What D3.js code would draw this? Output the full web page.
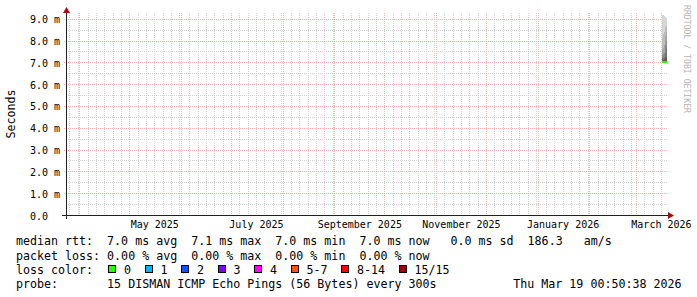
<!DOCTYPE html>
<html>
<head>
<meta charset="utf-8">
<script src="https://cdn.jsdelivr.net/npm/d3@7"></script>
<style>
  html, body { margin: 0; padding: 0; background: #fff; }
  svg { display: block; font-family: "DejaVu Sans Mono", monospace; }
  text { white-space: pre; }
</style>
</head>
<body>
<script>
//Graph window (last 360 days)
const graphStart = "2025-03-24T00:50:38";
const graphEnd = "2026-03-19T00:50:38";
const yMax = 0.00917;

//RRD samples at the far right: start of each step, sorted pings (ms), median (ms), lost pings
const sampleTimes = ["2026-03-16T10:50:00", "2026-03-17T01:14:00", "2026-03-17T15:38:00", "2026-03-18T06:02:00", "2026-03-18T20:26:00"];
const samplePings = [
  [6.96, 6.97, 6.98, 6.99, 6.99, 7.00, 7.00, 7.00, 7.02, 7.08, 7.18, 7.32, 7.55, 8.10, 9.17],
  [6.97, 6.98, 6.98, 6.99, 7.00, 7.00, 7.00, 7.01, 7.03, 7.10, 7.22, 7.40, 7.65, 8.30, 9.15],
  [6.97, 6.98, 6.99, 6.99, 7.00, 7.00, 7.01, 7.01, 7.04, 7.12, 7.25, 7.45, 7.80, 8.40, 9.12],
  [6.97, 6.98, 6.99, 7.00, 7.00, 7.00, 7.01, 7.02, 7.05, 7.20, 7.45, 7.80, 8.20, 8.60, 9.10],
  [6.98, 6.98, 6.99, 7.00, 7.00, 7.01, 7.01, 7.02, 7.06, 7.25, 7.60, 8.00, 8.40, 8.70, 9.05]
];
const sampleMedians = [7.00, 7.01, 7.00, 7.01, 7.02];
const sampleLoss = [0, 0, 0, 0, 0];

//Y tick labels
const yTickValues = [0, 0.001, 0.002, 0.003, 0.004, 0.005, 0.006, 0.007, 0.008, 0.009];

//Legend
const rttLegend = ["7.0 ms avg", "7.1 ms max", "7.0 ms min", "7.0 ms now", " 0.0 ms sd", "186.3   am/s"];
const lossLegend = ["0.00 % avg", "0.00 % max", "0.00 % min", "0.00 % now"];
const lossLabels = ["0", "1", "2", "3", "4", "5-7", "8-14", "15/15"];
const lossColors = ["#26ff00", "#00b8ff", "#0059ff", "#7e00ff", "#ff00ff", "#ff5500", "#ff0000", "#a10000"];
const probeText = "15 DISMAN ICMP Echo Pings (56 Bytes) every 300s";
const stampText = "Thu Mar 19 00:50:38 2026";

//Sizes
const width = 697;
const height = 297;
const X0 = 66, X1 = 666, Y0 = 215, Y1 = 15;
const snap = v => Math.round(v) + 0.5;

const svg = d3.select("body")
  .append("svg")
  .attr("width", width)
  .attr("height", height)
  .style("background-color", "#fff");

const parse = d3.isoParse;
const tStart = parse(graphStart), tEnd = parse(graphEnd);

const xScale = d3.scaleTime().domain([tStart, tEnd]).range([X0, X1]);
const yScale = d3.scaleLinear().domain([0, yMax]).range([Y0, Y1]);

const minorGrid = "#d2d2d2";
const majorGrid = "#f0b8b8";

//Grid (behind the data)
const grid = svg.append("g").attr("shape-rendering", "crispEdges");

const yMinor = yScale.ticks(20);
grid.selectAll(".hminor").data(yMinor.filter(v => !yTickValues.some(t => Math.abs(t - v) < 1e-9)))
  .join("line")
  .attr("x1", X0).attr("x2", X1 + 1)
  .attr("y1", d => snap(yScale(d))).attr("y2", d => snap(yScale(d)))
  .attr("stroke", minorGrid).attr("stroke-dasharray", "1,1");

const xMinor = d3.timeDay.every(5).range(tStart, tEnd);
grid.selectAll(".vminor").data(xMinor)
  .join("line")
  .attr("x1", d => snap(xScale(d))).attr("x2", d => snap(xScale(d)))
  .attr("y1", Y1 - 2).attr("y2", Y0)
  .attr("stroke", minorGrid).attr("stroke-dasharray", "1,1");

grid.selectAll(".hmajor").data(yTickValues.slice(1))
  .join("line")
  .attr("x1", X0 - 2).attr("x2", X1 + 2)
  .attr("y1", d => snap(yScale(d))).attr("y2", d => snap(yScale(d)))
  .attr("stroke", majorGrid).attr("stroke-dasharray", "1,1");

const xMajor = d3.timeMonth.range(tStart, tEnd);
grid.selectAll(".vmajor").data(xMajor)
  .join("line")
  .attr("x1", d => snap(xScale(d))).attr("x2", d => snap(xScale(d)))
  .attr("y1", Y1 - 2).attr("y2", Y0 + 2)
  .attr("stroke", majorGrid).attr("stroke-dasharray", "1,1");

//Smoke (SmokePing style bands)
const samples = sampleTimes.map((t, i) => ({
  t0: parse(t),
  t1: i + 1 < sampleTimes.length ? parse(sampleTimes[i + 1]) : tEnd,
  pings: samplePings[i],
  median: sampleMedians[i],
  loss: sampleLoss[i]
}));

const nPings = samplePings[0].length;
const half = nPings / 2;
const smoke = svg.append("g").attr("shape-rendering", "crispEdges");
for (let ibot = 1; ibot <= Math.floor(half); ibot++) {
  const itop = nPings + 1 - ibot;
  const g = Math.floor(190 / half * (half - ibot)) + 50;
  const col = d3.rgb(g, g, g).formatHex();
  smoke.selectAll(".band" + ibot).data(samples)
    .join("rect")
    .attr("x", d => Math.round(xScale(d.t0)))
    .attr("width", d => Math.max(1, Math.round(xScale(d.t1)) - Math.round(xScale(d.t0))))
    .attr("y", d => Math.round(yScale(d.pings[itop - 1] / 1000)))
    .attr("height", d => Math.max(0, Math.round(yScale(d.pings[ibot - 1] / 1000)) - Math.round(yScale(d.pings[itop - 1] / 1000))))
    .attr("fill", col);
}

//Median line coloured by loss
const lossIndex = l => l === 0 ? 0 : l <= 4 ? l : l <= 7 ? 5 : l <= 14 ? 6 : 7;
svg.append("g").selectAll("rect").data(samples)
  .join("rect")
  .attr("shape-rendering", "crispEdges")
  .attr("x", d => Math.round(xScale(d.t0)))
  .attr("width", d => Math.max(1, Math.round(xScale(d.t1)) - Math.round(xScale(d.t0))))
  .attr("y", d => Math.round(yScale(d.median / 1000)) - 1)
  .attr("height", 2)
  .attr("fill", d => lossColors[lossIndex(d.loss)]);

//Axes lines and arrows
const axisCol = "#202020";
const arrowCol = "#a01010";
svg.append("line")
  .attr("x1", X0 - 4).attr("x2", X1 + 3)
  .attr("y1", snap(Y0)).attr("y2", snap(Y0))
  .attr("stroke", axisCol).attr("shape-rendering", "crispEdges");
svg.append("line")
  .attr("x1", snap(X0)).attr("x2", snap(X0))
  .attr("y1", Y0 + 4).attr("y2", Y1 - 3)
  .attr("stroke", axisCol).attr("shape-rendering", "crispEdges");
svg.append("path")
  .attr("d", `M${X1 + 2},${snap(Y0) - 3.5}L${X1 + 8},${snap(Y0)}L${X1 + 2},${snap(Y0) + 3.5}Z`)
  .attr("fill", arrowCol);
svg.append("path")
  .attr("d", `M${snap(X0) - 3.5},${Y1 - 2}L${snap(X0)},${Y1 - 8}L${snap(X0) + 3.5},${Y1 - 2}Z`)
  .attr("fill", arrowCol);

//yAxis labels
const yAxis = d3.axisLeft(yScale)
  .tickValues(yTickValues)
  .tickSize(0)
  .tickFormat(d => d === 0 ? "0.0" : d3.format(".1f")(d * 1000) + " m");
const yg = svg.append("g").call(yAxis);
yg.select(".domain").remove();
yg.selectAll("text")
  .attr("x", 30 - X0)
  .attr("dy", "0.35em")
  .attr("text-anchor", "start")
  .attr("font-family", "DejaVu Sans Mono")
  .attr("font-size", 10)
  .attr("fill", "#000");
yg.attr("transform", `translate(${X0},0.5)`).attr("font-family", null).attr("font-size", null);

//xAxis labels, centred half a month after the month start
const labelDates = d3.timeMonth.every(2).range(tStart, tEnd).map(d => d3.timeDay.offset(d, 15));
const xAxis = d3.axisBottom(xScale)
  .tickValues(labelDates)
  .tickSize(0)
  .tickPadding(0)
  .tickFormat(d3.timeFormat("%B %Y"));
const xg = svg.append("g").attr("transform", `translate(0,${Y0})`).call(xAxis);
xg.select(".domain").remove();
xg.selectAll("text")
  .attr("y", 13)
  .attr("dy", null)
  .attr("font-family", "DejaVu Sans Mono")
  .attr("font-size", 10)
  .attr("fill", "#000");
xg.attr("font-family", null).attr("font-size", null);

//Y title
svg.append("text")
  .attr("transform", "translate(14.5,114) rotate(-90)")
  .attr("text-anchor", "middle")
  .attr("font-size", 11.65)
  .attr("fill", "#000")
  .text("Seconds");

//Watermark
svg.append("text")
  .attr("transform", "translate(684,5) rotate(90)")
  .attr("font-size", 9)
  .attr("fill", "#b4b4b4")
  .attr("textLength", 108)
  .attr("lengthAdjust", "spacingAndGlyphs")
  .text("RRDTOOL / TOBI OETIKER");

//Legend
const legend = svg.append("g").attr("font-size", 11.65).attr("fill", "#000");
legend.append("text").attr("x", 16).attr("y", 245)
  .text("median rtt:  " + rttLegend.join("  "));
legend.append("text").attr("x", 16).attr("y", 259.5)
  .text("packet loss: " + lossLegend.join("  "));
legend.append("text").attr("x", 16).attr("y", 274)
  .text("loss color:");
legend.append("text").attr("x", 16).attr("y", 288)
  .text("probe:       " + probeText);
legend.append("text").attr("x", 681.5).attr("y", 288)
  .attr("text-anchor", "end")
  .text(stampText);

let sx = 108;
lossLabels.forEach((lab, i) => {
  legend.append("rect")
    .attr("x", sx + 0.5).attr("y", 265.5)
    .attr("width", 7).attr("height", 7)
    .attr("fill", lossColors[i])
    .attr("stroke", "#000")
    .attr("shape-rendering", "crispEdges");
  legend.append("text").attr("x", sx + 16).attr("y", 274).text(lab);
  sx = sx + 16 + lab.length * 7 + 13.5;
});
</script>
</body>
</html>
